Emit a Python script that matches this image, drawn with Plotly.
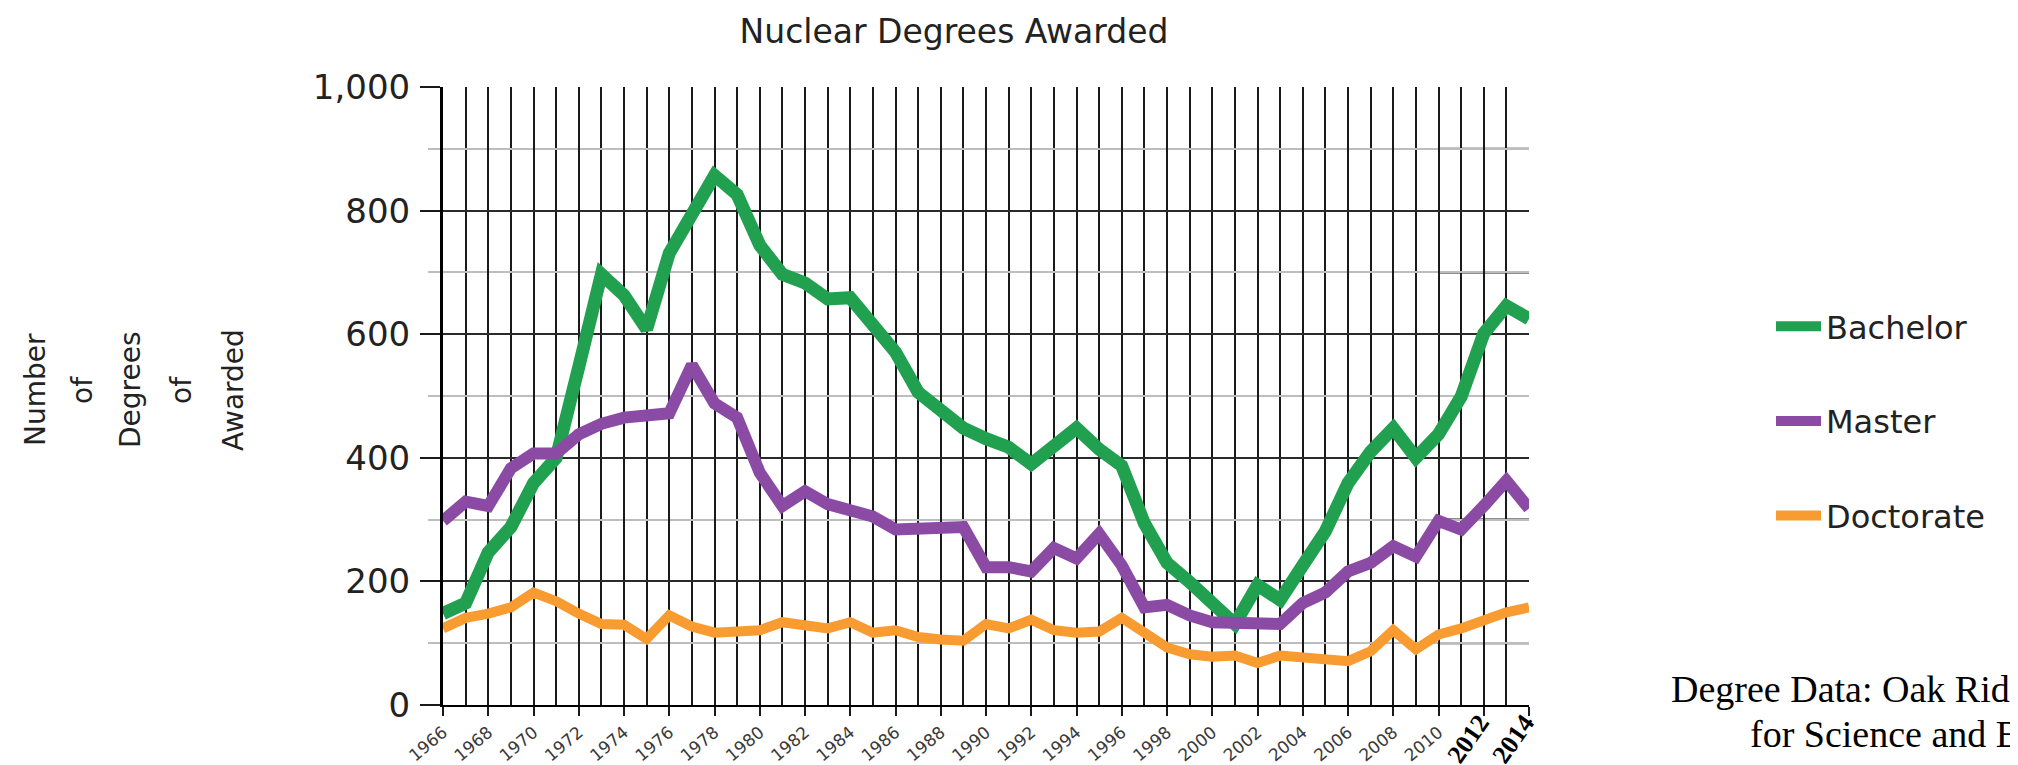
import plotly.graph_objects as go

# ---------------- data ----------------
years = list(range(1966, 2015))
bachelor = [148, 165, 247, 288, 359, 400, 547, 697, 663, 608, 731, 799, 857,
            826, 744, 697, 683, 657, 659, 615, 571, 506, 479, 448, 431,
            417, 390, 417, 448, 414, 387, 294, 230, 199, 165, 131, 194, 170,
            226, 281, 359, 410, 448, 400, 438, 499, 601, 646, 625]
master = [298, 329, 322, 383, 407, 407, 438, 455, 465, 468, 472, 550, 488,
          465, 376, 322, 346, 325, 315, 305, 284, 286, 288, 288, 223,
          223, 216, 254, 237, 277, 226, 158, 162, 145, 134, 134, 131, 131,
          165, 182, 216, 230, 257, 240, 298, 284, 322, 363, 318]
doctorate = [124, 141, 148, 158, 182, 168, 148, 131, 130, 107, 145, 127, 117,
             119, 121, 134, 127, 124, 134, 117, 121, 110, 106, 104, 131,
             124, 138, 121, 117, 119, 141, 117, 93, 82, 78, 80, 68, 80,
             76, 73, 71, 87, 121, 90, 114, 124, 138, 150, 158]

series_names = ["Bachelor", "Master", "Doctorate"]
series_values = [bachelor, master, doctorate]
series_colors = ["#21A04F", "#8B4BA5", "#F89B30"]
series_widths = [13, 12, 10]

label_years = list(range(1966, 2015, 2))
bold_label_years = [2012, 2014]
y_tick_vals = [0, 200, 400, 600, 800, 1000]
y_tick_text = ["0", "200", "400", "600", "800", "1,000"]
accent_x = (2010, 2014)
accent_levels = [100, 300, 500, 700, 900]

title_text = "Nuclear Degrees Awarded"
y_title_words = ["Number", "of", "Degrees", "of", "Awarded"]
source_lines = ["Degree Data: Oak Ridge Institute", "for Science and Education"]

# ---------------- figure ----------------
W, H = 2018, 765
L, R, T, B = 435, 497, 79, 68
PW = W - L - R
PH = H - T - B

fig = go.Figure()
for i, (name, vals, col, lw) in enumerate(zip(series_names, series_values,
                                               series_colors, series_widths)):
    fig.add_trace(go.Scatter(
        x=years, y=vals, mode="lines", name=name,
        line=dict(color=col, width=lw),
        legendgroup=name,
    ))

# black odd-hundred lines in the last segment
shapes = []
for lev in accent_levels:
    shapes.append(dict(type="line", xref="x", yref="y",
                       x0=accent_x[0], x1=accent_x[1], y0=lev, y1=lev,
                       line=dict(color="#1a1a1a", width=2), layer="below"))

annotations = []
# y-axis title words (rotated)
word_px = [27, 74, 122, 173, 225]
for w, px in zip(y_title_words, word_px):
    annotations.append(dict(
        text=w, xref="paper", yref="paper",
        x=(px - L) / PW, y=(H - B - 382) / PH,
        xanchor="center", yanchor="middle", textangle=-90, showarrow=False,
        font=dict(family="DejaVu Sans", size=28, color="#222222"),
    ))
# bold year labels
for yr in bold_label_years:
    annotations.append(dict(
        text="<b>%d</b>" % yr, xref="x", yref="paper", x=yr, y=0,
        xanchor="right", yanchor="top", xshift=12, yshift=-3,
        textangle=-55, showarrow=False, borderpad=0,
        font=dict(family="Liberation Serif", size=26, color="#000000"),
    ))
# source text
src_pos = [(1661, 681), (1740, 726)]
for line, (px, py) in zip(source_lines, src_pos):
    annotations.append(dict(
        text=line, xref="paper", yref="paper",
        x=(px - L) / PW, y=(H - B - py) / PH,
        xanchor="left", yanchor="middle", showarrow=False,
        font=dict(family="Liberation Serif", size=38, color="#000000"),
    ))

x_tick_text = ["" if y in bold_label_years else str(y) for y in label_years]

fig.update_layout(
    width=W, height=H,
    margin=dict(l=L, r=R, t=T, b=B, autoexpand=False),
    paper_bgcolor="white", plot_bgcolor="white",
    title=dict(text=title_text, xref="paper", x=(946 - L) / PW, xanchor="center",
               yref="container", y=1 - 23 / H, yanchor="middle",
               font=dict(family="DejaVu Sans", size=33, color="#222222")),
    showlegend=True,
    legend=dict(x=(1763 - L) / PW, xanchor="left", y=(H - B - 413) / PH,
                yanchor="middle", tracegroupgap=50, itemwidth=45,
                font=dict(family="DejaVu Sans", size=32, color="#222222"),
                bgcolor="rgba(0,0,0,0)"),
    xaxis=dict(range=[1966, 2014], tickmode="array", tickvals=label_years,
               ticktext=x_tick_text, tickangle=-40,
               tickfont=dict(family="DejaVu Sans", size=17, color="#3a3a3a"),
               ticks="outside", ticklen=9, tickwidth=2, tickcolor="#1a1a1a",
               showgrid=True, gridcolor="#1a1a1a", gridwidth=2,
               minor=dict(dtick=1, tick0=1966, showgrid=True,
                          gridcolor="#1a1a1a", gridwidth=2, ticks=""),
               showline=True, linecolor="#000000", linewidth=2,
               zeroline=False, automargin=False, fixedrange=True),
    yaxis=dict(range=[0, 1000], tickmode="array", tickvals=y_tick_vals,
               ticktext=y_tick_text,
               tickfont=dict(family="DejaVu Sans", size=34, color="#222222"),
               ticks="outside", ticklen=20, tickwidth=2, tickcolor="#1a1a1a",
               ticklabelstandoff=3,
               showgrid=True, gridcolor="#2a2a2a", gridwidth=2,
               minor=dict(dtick=100, tick0=0, showgrid=True,
                          gridcolor="#bdbdbd", gridwidth=2,
                          ticks="outside", ticklen=12, tickcolor="#bdbdbd",
                          tickwidth=2),
               showline=True, linecolor="#000000", linewidth=3,
               zeroline=False, automargin=False, fixedrange=True),
    shapes=shapes,
    annotations=annotations,
)

fig.write_html("out.html")
